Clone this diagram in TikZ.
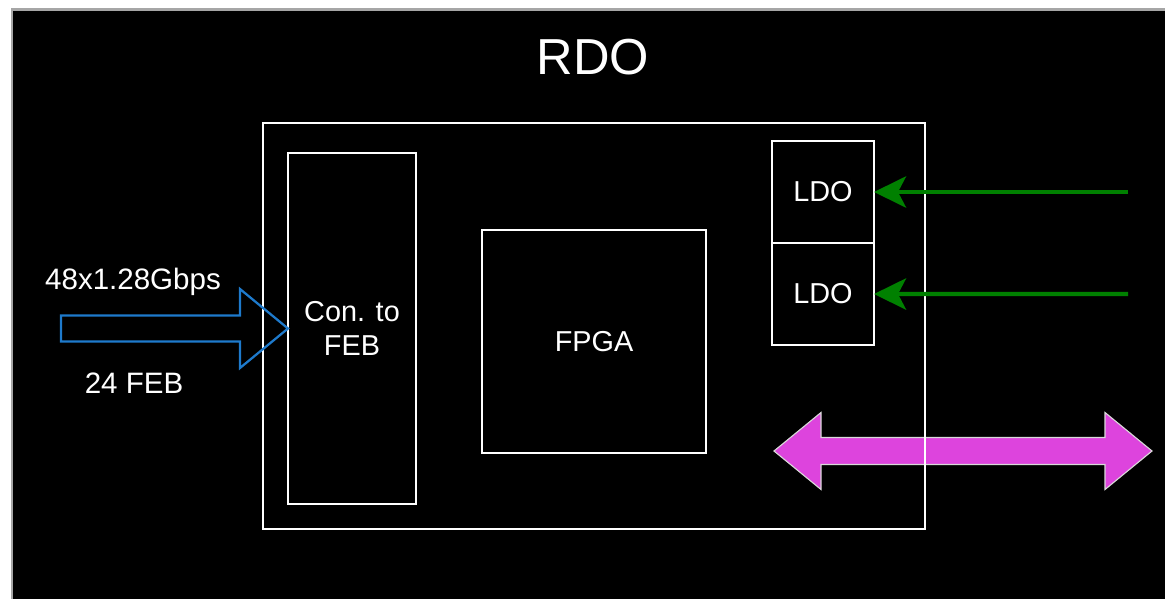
\documentclass[tikz,border=0pt]{standalone}
\usepackage{fontspec}
\setmainfont{Liberation Sans}
\usepackage{tikz}
\usetikzlibrary{positioning,calc,arrows.meta}
\tikzset{
	x=0.025cm, y=-0.025cm, % one unit is one pixel of the sketch
	box/.style ={draw=white, line width=1.4pt, outer sep=0pt, text=white, align=center, font=\fontsize{20.5pt}{24.2pt}\selectfont},
	lbl/.style ={text=white, font=\fontsize{21pt}{25pt}\selectfont},
	powerline/.style ={draw=pwrgreen, line width=3pt, -{Stealth[length=0.8cm,width=0.78cm,inset=0.2cm]}},
	febarrow/.style ={draw=febblue, line width=1.6pt, line join=miter},
	linkarrow/.style ={draw=white!85!black, line width=0.8pt, fill=linkmagenta, line join=miter}
}

\begin{document}
\begin{tikzpicture}
\definecolor{pwrgreen}{RGB}{0,128,0}
\definecolor{febblue}{RGB}{30,122,204}
\definecolor{linkmagenta}{RGB}{221,68,221}
\useasboundingbox (0,0) rectangle (1165,599);
% page and dark background
\fill[white] (0,0) rectangle (1165,599);
\fill[gray!70] (11,7.5) rectangle (1165,599);
\fill[black] (12.5,10.5) rectangle (1165,599);
% link to the outside, under the board outline
\draw[linkarrow] (774,451) -- ++(47,-38.5) -- ++(0,25) -- ++(284,0) -- ++(0,-25) -- ++(47,38.5)
	-- ++(-47,38.5) -- ++(0,-25) -- ++(-284,0) -- ++(0,25) -- cycle;
% board
\node[box, minimum width=16.55cm, minimum height=10.15cm] (rdobox) at (594,326) {};
\node[text=white, font=\fontsize{36pt}{40pt}\selectfont] (title) at (593,57) {RDO};
\node[box, minimum width=3.2cm, minimum height=8.775cm] (conbox) at (352,328.5) {Con. to\\FEB};
\node[box, minimum width=5.6cm, minimum height=5.575cm] (fpgabox) at (594,341.5) {FPGA};
\node[box, minimum width=2.55cm, minimum height=2.55cm] (ldo1) at (823,192) {LDO};
\node[box, minimum width=2.55cm, minimum height=2.55cm, below=0cm of ldo1] (ldo2) {LDO};
% power in
\coordinate (pwr1) at (1128,192);
\coordinate (pwr2) at (1128,294);
\draw[powerline] (pwr1) -- (ldo1.east);
\draw[powerline] (pwr2) -- (ldo2.east);
% front end links
\draw[febarrow] (conbox.west) -- ++(-48,39.5) -- ++(0,-26.5) -- ++(-179,0) -- ++(0,-26)
	-- ++(179,0) -- ++(0,-26.5) -- cycle;
\node[lbl] (rate) at (133,282) {48x1.28Gbps};
\node[lbl] (nfeb) at (134,383) {24 FEB};
\end{tikzpicture}
\end{document}
